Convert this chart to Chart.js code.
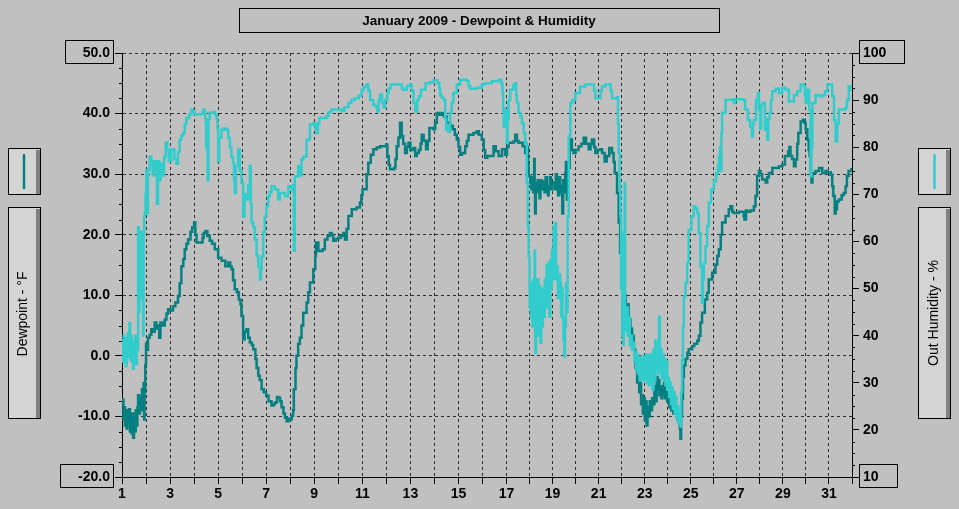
<!DOCTYPE html>
<html>
<head>
<meta charset="utf-8">
<script src="https://cdn.jsdelivr.net/npm/chart.js@4.4.1/dist/chart.umd.min.js"></script>
<style>
html,body{margin:0;padding:0;background:#c0c0c0;overflow:hidden}
#wrap{width:959px;height:509px;position:relative}
</style>
</head>
<body>
<div id="wrap"><canvas id="c" width="959" height="509"></canvas></div>
<script>
// ---------- text ----------
const chartTitle = 'January 2009 - Dewpoint & Humidity';
const leftAxisTitle = 'Dewpoint - °F';
const rightAxisTitle = 'Out Humidity - %';

// ---------- axes ----------
const dayNumbers = [1,2,3,4,5,6,7,8,9,10,11,12,13,14,15,16,17,18,19,20,21,22,23,24,25,26,27,28,29,30,31,32];
const dewpointRange = [-20, 50];
const humidityRange = [10, 100];

// ---------- dewpoint (°F), day of month ----------
const dewDays = [
1.00,1.03,1.06,1.09,1.12,1.15,1.19,1.22,1.26,1.29,1.33,1.36,1.40,1.43,1.46,1.50,1.53,1.57,1.60,1.64,1.67,1.71,1.75,1.79,1.83,1.86,1.90,1.92,1.94,1.97,
2.00,2.04,2.08,2.15,2.22,2.30,2.36,2.43,2.50,2.55,2.60,2.70,2.78,2.85,2.92,
3.00,3.12,3.22,3.33,3.40,3.47,3.55,3.61,3.68,3.75,3.85,3.92,
4.00,4.05,4.10,4.24,4.35,4.40,4.47,4.55,4.65,4.75,4.86,
5.00,5.14,5.30,5.42,5.50,5.56,5.62,5.69,5.78,5.86,5.93,5.97,
6.04,6.10,6.18,6.25,6.32,6.40,6.46,6.55,6.60,6.67,6.73,6.81,6.90,
7.00,7.10,7.22,7.30,7.36,7.45,7.50,7.58,7.64,7.72,7.78,7.85,7.92,
8.00,8.06,8.12,8.15,8.22,8.26,8.33,8.40,8.47,8.54,8.68,8.75,8.82,8.96,
9.04,9.07,9.17,9.35,9.44,9.55,9.65,9.72,9.79,9.90,
10.00,10.10,10.21,10.28,10.35,10.42,10.56,10.76,10.90,10.96,
11.01,11.11,11.18,11.25,11.35,11.46,11.60,11.74,11.99,
12.04,12.10,12.15,12.25,12.32,12.38,12.43,12.50,12.57,12.64,12.70,12.78,12.85,12.92,
13.00,13.13,13.20,13.26,13.35,13.42,13.47,13.55,13.65,13.72,13.79,13.96,
14.03,14.10,14.20,14.31,14.40,14.51,14.65,14.76,14.85,14.93,
15.00,15.07,15.15,15.28,15.35,15.42,15.62,15.76,15.85,15.97,
16.05,16.11,16.20,16.32,16.46,16.55,16.67,16.81,16.94,
17.02,17.09,17.30,17.38,17.45,17.52,17.70,17.81,17.88,17.93,17.96,
18.03,18.08,18.12,18.16,18.20,18.22,18.24,18.27,18.31,18.35,18.39,18.43,18.47,18.52,18.56,18.61,18.65,18.70,18.75,18.80,18.83,18.88,18.93,18.97,
19.04,19.09,19.14,19.19,19.24,19.29,19.33,19.38,19.42,19.46,19.50,19.55,19.58,19.62,19.66,19.70,19.74,19.77,19.84,19.91,
20.00,20.13,20.25,20.35,20.45,20.57,20.65,20.71,20.80,20.86,20.95,
21.07,21.15,21.26,21.35,21.46,21.58,21.65,21.70,21.80,21.87,21.93,
22.00,22.06,22.12,22.18,22.24,22.30,22.38,22.45,22.52,22.60,22.67,22.72,22.76,22.80,22.84,22.88,22.92,22.96,
23.00,23.04,23.08,23.12,23.17,23.22,23.27,23.32,23.37,23.42,23.47,23.52,23.56,23.60,23.64,23.68,23.72,23.76,23.80,23.84,23.88,23.92,23.97,
24.01,24.06,24.10,24.15,24.19,24.24,24.28,24.33,24.38,24.43,24.48,24.52,24.55,24.58,24.62,24.66,24.70,24.77,24.85,24.91,
25.06,25.15,25.28,25.35,25.42,25.49,25.61,25.71,25.78,25.93,
26.07,26.15,26.22,26.30,26.36,26.51,26.65,26.72,26.80,26.86,
27.09,27.23,27.30,27.33,27.40,27.45,27.59,27.74,27.81,27.88,27.96,
28.03,28.10,28.25,28.32,28.39,28.54,28.83,28.97,
29.09,29.23,29.28,29.33,29.40,29.48,29.55,29.62,29.67,29.77,29.87,29.93,29.99,
30.06,30.12,30.16,30.20,30.24,30.28,30.42,30.57,30.71,30.85,30.93,
31.07,31.14,31.19,31.25,31.29,31.35,31.43,31.55,31.64,31.72,31.78,31.85,31.97
];
const dewValues = [
-8.0,-7.2,-10.5,-8.5,-11.5,-9.0,-12.0,-9.5,-11.0,-8.8,-12.5,-10.0,-12.8,-9.5,-13.5,-10.5,-12.5,-9.0,-11.5,-8.5,-6.5,-9.5,-6.8,-9.0,-5.5,-8.0,-4.5,-10.5,-6.0,-1.5,
2.0,1.0,3.0,3.5,4.4,4.0,5.5,4.5,5.0,3.0,5.5,5.0,6.0,7.0,7.7,
7.5,8.2,8.8,9.9,12.0,14.8,16.0,17.6,18.5,19.2,20.5,21.2,
22.0,20.0,18.7,18.7,19.5,20.3,20.6,19.8,19.0,18.5,17.6,
16.2,15.7,14.8,15.4,14.8,14.3,12.5,11.0,10.5,9.3,8.5,6.6,
2.7,4.0,4.4,3.0,2.2,1.8,1.1,-0.5,-2.0,-3.3,-4.0,-5.5,-6.0,
-6.6,-7.5,-8.2,-8.0,-7.7,-6.8,-6.9,-7.5,-8.5,-9.5,-10.2,-10.8,-10.4,
-10.5,-9.9,-9.0,-5.5,-2.0,0.0,2.0,3.0,5.0,7.1,8.8,10.5,12.1,14.3,
16.5,18.7,17.3,17.6,19.2,19.8,20.3,20.0,19.0,19.3,
19.5,19.8,20.3,19.2,21.0,23.1,24.2,24.5,25.3,26.5,
27.5,27.5,30.0,31.9,33.2,34.1,34.4,34.6,34.9,
33.0,31.5,30.8,30.8,31.0,32.5,34.6,36.0,38.5,36.3,35.0,33.5,34.5,35.2,
34.0,34.3,33.0,33.5,34.0,35.0,36.5,35.5,34.1,35.5,37.6,37.4,
38.5,40.1,39.8,40.1,39.5,38.5,38.0,37.4,36.5,35.7,
34.5,33.2,33.5,34.6,35.5,36.5,36.8,37.1,36.5,35.7,
34.0,32.7,33.0,33.0,34.6,33.8,33.0,34.1,33.2,
34.5,35.2,35.4,36.5,35.5,35.2,34.6,33.5,34.5,31.5,29.7,
28.6,27.5,29.5,27.0,32.5,28.0,23.5,28.5,27.0,29.0,28.0,26.0,29.0,27.5,28.5,28.8,27.0,29.5,28.0,26.5,28.0,29.5,27.5,28.5,
28.6,27.5,30.0,28.0,26.5,29.5,28.0,27.0,23.5,29.0,27.0,30.2,32.0,25.8,29.0,31.0,34.0,35.7,34.0,33.5,
34.0,34.6,35.0,36.0,35.0,34.1,35.0,35.7,34.5,33.5,34.0,
34.1,33.5,32.1,33.0,34.3,33.5,32.0,30.2,26.9,22.0,17.0,
14.0,12.0,10.0,8.0,8.5,6.0,4.5,3.3,1.0,-2.0,-4.4,-3.5,-6.0,-4.5,-8.0,-6.5,-9.5,-7.0,
-10.5,-7.5,-11.5,-8.5,-10.0,-7.5,-9.0,-7.0,-8.0,-5.0,-7.5,-3.5,-5.5,-4.0,-6.5,-5.0,-7.0,-5.0,-6.5,-4.5,-7.0,-5.5,-7.5,
-6.0,-8.5,-7.0,-9.0,-8.0,-9.5,-8.5,-9.5,-9.0,-10.5,-11.0,-12.0,-13.7,-10.0,-7.1,-3.5,-1.6,-0.5,0.5,1.1,
1.6,2.0,2.5,3.3,5.5,7.1,9.3,10.4,12.6,13.7,
15.1,16.5,17.6,20.0,22.0,23.1,24.2,24.7,23.8,23.6,
23.8,23.8,23.0,22.5,24.0,23.8,24.0,24.7,26.4,29.7,30.5,
30.0,29.1,28.6,29.5,30.2,31.0,31.3,31.6,
33.0,33.8,34.5,33.0,32.5,31.3,32.4,35.0,36.8,38.7,39.0,38.5,37.4,
35.7,34.0,33.0,30.0,28.6,30.2,30.5,31.0,30.2,30.5,30.3,
29.9,28.0,26.4,23.5,24.2,25.5,25.8,26.5,26.9,28.0,29.7,30.5,31.0
];

// ---------- outdoor humidity (%), day of month ----------
const humDays = [
1.00,1.02,1.04,1.07,1.10,1.13,1.16,1.19,1.22,1.25,1.28,1.31,1.34,1.37,1.40,1.43,1.46,1.49,1.52,1.55,1.58,1.62,1.65,1.67,1.70,1.73,1.76,1.79,1.82,1.85,1.88,1.90,1.92,1.95,1.98,
2.01,2.04,2.08,2.15,2.22,2.27,2.32,2.40,2.45,2.50,2.55,2.60,2.68,2.75,2.82,2.88,2.95,
3.05,3.12,3.18,3.26,3.33,3.40,3.47,3.54,3.61,3.68,3.80,3.89,3.95,
4.03,4.24,4.35,4.40,4.44,4.47,4.50,4.53,4.56,4.60,4.65,4.80,4.86,4.93,4.97,
5.00,5.05,5.14,5.25,5.35,5.42,5.49,5.55,5.62,5.66,5.69,5.74,5.83,5.90,5.97,
6.04,6.10,6.18,6.25,6.32,6.36,6.39,6.46,6.53,6.60,6.67,6.74,6.78,6.81,6.88,6.94,
7.01,7.08,7.15,7.22,7.36,7.50,7.57,7.64,7.78,7.92,
8.06,8.12,8.15,8.19,8.33,8.40,8.47,8.54,8.68,8.82,8.96,
9.05,9.10,9.15,9.21,9.51,9.60,9.72,
10.00,10.14,10.25,10.42,10.55,10.69,10.85,10.97,
11.05,11.18,11.25,11.32,11.45,11.53,11.62,11.68,11.74,11.82,11.88,11.95,
12.04,12.10,12.18,12.57,12.64,12.71,12.85,12.99,
13.05,13.13,13.20,13.28,13.35,13.44,13.63,13.80,13.96,
14.13,14.20,14.24,14.30,14.38,14.45,14.49,14.55,14.58,14.65,14.72,14.79,14.93,
15.07,15.35,15.42,15.49,15.76,15.97,
16.11,16.39,16.67,16.78,16.83,16.86,16.88,16.91,16.94,16.98,
17.01,17.05,17.09,17.16,17.30,17.38,17.42,17.45,17.52,17.60,17.67,17.75,17.81,17.88,17.93,17.96,
18.00,18.03,18.06,18.09,18.12,18.16,18.19,18.22,18.24,18.25,18.28,18.31,18.35,18.39,18.43,18.47,18.51,18.54,18.58,18.62,18.66,18.70,18.74,18.78,18.83,18.86,18.90,18.94,18.97,
19.00,19.04,19.08,19.12,19.15,19.19,19.23,19.27,19.33,19.37,19.40,19.43,19.47,19.51,19.54,19.58,19.62,19.65,19.70,19.77,19.87,19.99,
20.20,20.42,20.71,20.80,20.86,
21.00,21.08,21.14,21.29,21.46,21.52,21.58,21.80,21.84,21.87,21.91,21.94,21.97,
22.00,22.02,22.04,22.06,22.09,22.11,22.13,22.15,22.18,22.22,22.26,22.30,22.35,22.40,22.45,22.50,22.55,22.59,22.63,22.67,22.70,22.74,22.78,22.82,22.86,22.90,22.94,22.98,
23.02,23.06,23.10,23.14,23.18,23.22,23.26,23.30,23.34,23.38,23.42,23.46,23.50,23.54,23.58,23.62,23.66,23.70,23.74,23.78,23.82,23.86,23.90,23.94,23.98,
24.02,24.06,24.10,24.14,24.18,24.22,24.26,24.30,24.34,24.38,24.42,24.46,24.50,24.55,24.58,24.62,24.66,24.70,24.77,24.84,24.91,
25.03,25.13,25.20,25.28,25.35,25.42,25.49,25.53,25.57,25.64,25.71,25.78,25.88,
26.00,26.10,26.18,26.22,26.27,26.29,26.33,26.36,26.51,26.80,26.87,26.93,
27.29,27.36,27.48,27.58,27.65,27.70,27.74,27.83,27.91,27.96,
28.01,28.06,28.13,28.22,28.27,28.32,28.37,28.42,28.48,28.54,28.68,28.83,28.97,
29.12,29.26,29.38,29.48,29.62,29.77,29.91,29.96,29.99,
30.06,30.14,30.20,30.24,30.28,30.42,30.57,30.71,30.83,30.93,
31.07,31.14,31.22,31.29,31.36,31.43,31.58,31.72,31.78,31.86,31.93,32.00
];
const humValues = [
36.5,39.0,34.5,40.0,35.0,38.5,33.5,39.5,35.5,40.5,36.0,42.7,35.0,40.0,34.5,39.0,33.0,38.5,35.0,40.0,34.0,39.5,37.0,63.0,45.0,60.0,48.0,62.0,52.0,58.0,40.0,62.0,65.3,66.0,70.0,
75.0,66.0,75.2,78.0,77.0,74.0,77.0,75.0,68.0,77.0,73.0,76.5,74.0,78.0,81.0,79.5,77.0,
79.5,79.5,77.5,76.5,79.0,81.6,82.5,83.0,85.0,86.2,87.0,88.0,87.5,
87.0,87.0,87.5,88.0,87.5,85.8,80.0,84.0,73.0,86.0,87.3,87.5,87.0,86.0,84.0,
77.0,82.0,83.7,84.0,83.7,82.0,80.0,78.0,76.6,73.0,70.3,76.0,79.5,75.0,72.4,
65.3,70.0,68.9,72.0,76.0,68.0,64.0,63.0,60.4,57.0,54.7,51.9,54.0,56.8,62.0,65.3,
67.5,69.6,70.5,71.7,71.0,68.9,70.3,70.3,69.6,71.7,
71.0,72.0,58.0,73.8,76.0,74.0,77.4,78.0,81.6,84.8,85.1,
84.0,83.0,85.0,86.2,86.6,87.5,88.0,
88.0,87.7,88.5,89.4,90.0,90.4,91.0,92.2,
92.8,93.3,92.0,90.0,89.0,88.7,87.6,90.0,91.2,89.5,88.5,90.0,
91.5,92.5,93.3,93.3,92.5,92.2,93.0,93.3,
92.0,89.4,87.6,90.0,90.8,92.2,93.6,93.8,94.2,
93.6,92.5,91.1,90.5,90.0,86.0,83.7,84.5,83.3,87.3,89.5,91.5,93.3,
94.3,94.0,93.0,92.4,92.6,93.3,
93.6,94.0,94.3,93.6,91.5,88.0,84.4,88.0,87.9,86.0,
80.9,86.0,90.0,92.2,93.3,93.6,91.0,89.4,87.3,86.5,85.1,83.0,80.9,72.4,63.2,56.8,
46.0,51.2,44.0,49.0,42.0,52.0,44.5,58.0,40.0,36.3,48.0,43.0,52.0,40.0,50.5,38.5,47.0,42.0,50.0,44.0,52.0,46.0,55.0,48.0,55.4,44.0,56.0,50.0,58.2,
52.0,63.2,55.0,63.9,52.0,54.7,48.0,53.0,51.2,44.0,50.0,44.1,39.0,35.6,42.0,51.0,45.0,65.3,82.3,89.4,90.0,91.5,
92.9,93.3,93.3,92.0,90.4,
90.4,92.0,92.9,93.3,93.3,92.0,90.4,90.6,85.0,78.8,72.0,65.3,50.0,
62.0,40.0,55.0,38.0,58.0,42.0,72.4,45.0,41.0,46.0,40.0,44.0,38.0,40.0,37.0,38.5,34.5,36.5,33.0,36.0,32.0,35.0,30.5,35.5,31.0,35.0,30.5,35.5,
31.0,36.0,30.0,35.5,29.5,36.0,30.0,35.5,28.5,37.0,30.5,39.0,33.0,38.5,32.0,44.0,33.0,37.0,31.0,36.0,30.5,35.0,29.5,34.5,28.5,
31.0,27.0,30.0,25.5,29.0,24.5,28.0,23.5,27.0,22.5,25.0,21.5,23.5,20.7,28.0,34.9,42.0,48.3,51.2,55.4,62.5,
65.3,67.4,67.0,66.0,61.8,54.7,47.0,52.0,55.4,59.0,63.2,68.2,71.0,
72.8,74.5,76.0,78.0,80.0,75.0,83.0,87.3,90.0,90.2,89.4,90.2,
90.0,88.0,85.8,84.4,82.3,85.0,85.8,90.0,91.5,88.0,
84.0,89.0,89.4,83.7,86.0,81.6,86.0,87.3,90.0,91.9,92.4,91.5,92.6,
92.2,89.7,89.7,91.1,91.9,93.3,93.0,91.0,89.4,
92.2,88.0,73.8,80.0,89.4,91.1,90.8,91.1,91.9,93.3,
93.3,90.8,85.8,81.2,85.0,88.0,88.0,88.4,90.0,92.9,92.2,93.3
];

// ---------- styles ----------
const BG = '#c0c0c0';
const DEW_COLOR = '#008080';
const HUM_COLOR = '#33cccc';
const FONT = '"Liberation Sans", Arial, sans-serif';

// The reference's day axis: gridlines are 24px apart up to day 17, 23px after.
class DayScale extends Chart.LinearScale {
  _dayOffset(v) {
    const split = 17, a = 24, b = 23;
    return v <= split ? (v - this.min) * a : (split - this.min) * a + (v - split) * b;
  }
  getPixelForValue(value) {
    if (value === null || value === undefined || isNaN(value)) return NaN;
    return this.getPixelForDecimal(this._dayOffset(value) / this._dayOffset(this.max));
  }
  getValueForPixel(pixel) {
    const d = this.getDecimalForPixel(pixel) * this._dayOffset(this.max);
    const splitOff = this._dayOffset(17);
    return d <= splitOff ? this.min + d / 24 : 17 + (d - splitOff) / 23;
  }
}
DayScale.id = 'dayscale';
DayScale.defaults = Chart.LinearScale.defaults;
Chart.register(DayScale);

const dewPoints = dewDays.map((d, i) => ({x: d, y: dewValues[i]}));
const humPoints = humDays.map((d, i) => ({x: d, y: humValues[i]}));

function panel(ctx, x, y, w, h) {
  ctx.fillStyle = '#d4d4d4';
  ctx.fillRect(x, y, w, h);
  ctx.fillStyle = '#808080';
  ctx.fillRect(x + w - 5, y + 2, 4, h - 3);
  ctx.strokeStyle = '#000';
  ctx.lineWidth = 1;
  ctx.strokeRect(x + 0.5, y + 0.5, w - 1, h - 1);
}

const decor = {
  id: 'decor',
  beforeDraw(chart) {
    const ctx = chart.ctx;
    ctx.save();
    ctx.fillStyle = BG;
    ctx.fillRect(0, 0, chart.width, chart.height);
    ctx.restore();
  },
  afterDraw(chart) {
    const ctx = chart.ctx;
    const yL = chart.scales.y, yR = chart.scales.y2;
    ctx.save();
    // title
    ctx.strokeStyle = '#000'; ctx.lineWidth = 1;
    ctx.strokeRect(239.5, 8.5, 480, 24);
    ctx.fillStyle = '#000';
    ctx.font = 'bold 13.5px ' + FONT;
    ctx.textAlign = 'center'; ctx.textBaseline = 'middle';
    ctx.fillText(chartTitle, 479, 21);

    // legend panels
    panel(ctx, 8, 148, 33, 47);
    panel(ctx, 8, 207, 33, 212);
    panel(ctx, 918, 148, 33, 47);
    panel(ctx, 918, 207, 33, 212);
    ctx.lineCap = 'round';
    ctx.lineWidth = 2.5;
    ctx.strokeStyle = DEW_COLOR;
    ctx.beginPath(); ctx.moveTo(24, 155); ctx.lineTo(24, 188); ctx.stroke();
    ctx.strokeStyle = HUM_COLOR;
    ctx.beginPath(); ctx.moveTo(934.5, 155); ctx.lineTo(934.5, 188); ctx.stroke();

    ctx.fillStyle = '#000';
    ctx.font = '14px ' + FONT;
    ctx.textAlign = 'center'; ctx.textBaseline = 'middle';
    ctx.save(); ctx.translate(23, 314); ctx.rotate(-Math.PI / 2); ctx.fillText(leftAxisTitle, 0, 0); ctx.restore();
    ctx.save(); ctx.translate(934, 313); ctx.rotate(-Math.PI / 2); ctx.fillText(rightAxisTitle, 0, 0); ctx.restore();

    // minor ticks
    ctx.strokeStyle = '#000'; ctx.lineWidth = 1; ctx.lineCap = 'butt';
    for (let v = dewpointRange[0]; v <= dewpointRange[1]; v += 2.5) {
      if (v % 10 === 0) continue;
      const p = Math.round(yL.getPixelForValue(v)) + 0.5;
      ctx.beginPath(); ctx.moveTo(yL.right - 3, p); ctx.lineTo(yL.right, p); ctx.stroke();
    }
    for (let v = humidityRange[0]; v <= humidityRange[1]; v += 2.5) {
      if (v % 10 === 0) continue;
      const p = Math.round(yR.getPixelForValue(v)) + 0.5;
      ctx.beginPath(); ctx.moveTo(yR.left, p); ctx.lineTo(yR.left + 3, p); ctx.stroke();
    }

    // boxed end labels
    ctx.font = 'bold 14px ' + FONT;
    const lRight = yL.right - 7 - 5;
    [dewpointRange[1], dewpointRange[0]].forEach(v => {
      const tw = ctx.measureText(v.toFixed(1)).width;
      const p = yL.getPixelForValue(v);
      const x1 = Math.round(lRight - tw - 18) + 0.5, x2 = lRight + 3.5;
      const y1 = Math.round(p - 13) + 0.5;
      ctx.strokeRect(x1, y1, x2 - x1, 23);
    });
    const rLeft = yR.left + 7 + 4;
    [humidityRange[1], humidityRange[0]].forEach(v => {
      const tw = ctx.measureText(String(v)).width;
      const p = yR.getPixelForValue(v);
      const x1 = rLeft - 3.5, x2 = Math.round(rLeft + tw + 18) + 0.5;
      const y1 = Math.round(p - 13) + 0.5;
      ctx.strokeRect(x1, y1, x2 - x1, 23);
    });
    ctx.restore();
  }
};

const tickFont = {family: FONT, weight: 'bold', size: 14};

new Chart(document.getElementById('c'), {
  type: 'line',
  data: {
    datasets: [
      {label: 'Out Humidity', data: humPoints, yAxisID: 'y2', borderColor: HUM_COLOR, borderWidth: 2.5,
       pointRadius: 0, tension: 0, stepped: 'before', fill: false, order: 0},
      {label: 'Dewpoint', data: dewPoints, yAxisID: 'y', borderColor: DEW_COLOR, borderWidth: 2.5,
       pointRadius: 0, tension: 0, stepped: 'before', fill: false, order: 1}
    ]
  },
  options: {
    responsive: false,
    animation: false,
    events: [],
    layout: {padding: {top: 53, left: 0, right: 0, bottom: 0}},
    plugins: {legend: {display: false}, tooltip: {enabled: false}, title: {display: false}},
    scales: {
      x: {
        type: 'dayscale', position: 'bottom', min: dayNumbers[0], max: dayNumbers[dayNumbers.length - 1],
        afterBuildTicks: s => { s.ticks = dayNumbers.map(v => ({value: v})); },
        afterFit: s => { s.height = 32; },
        ticks: {autoSkip: false, maxRotation: 0, minRotation: 0, color: '#000', font: tickFont, padding: 2,
          callback: v => (v % 2 === 1 && v < dayNumbers[dayNumbers.length - 1]) ? String(v) : ''},
        grid: {color: '#303030', lineWidth: 1, tickColor: '#000', tickLength: 7, tickWidth: 1},
        border: {display: true, color: '#000', width: 1, dash: [3, 3]}
      },
      y: {
        position: 'left', min: dewpointRange[0], max: dewpointRange[1],
        afterFit: s => { s.width = 122; },
        ticks: {stepSize: 10, color: '#000', font: tickFont, padding: 5, callback: v => Number(v).toFixed(1)},
        grid: {color: '#303030', lineWidth: 1, tickColor: '#000', tickLength: 7, tickWidth: 1},
        border: {display: true, color: '#000', width: 1, dash: [3, 3]}
      },
      y2: {
        position: 'right', min: humidityRange[0], max: humidityRange[1],
        afterFit: s => { s.width = 107; },
        ticks: {stepSize: 10, color: '#000', font: tickFont, padding: 4, callback: v => String(v)},
        grid: {drawOnChartArea: false, tickColor: '#000', tickLength: 7, tickWidth: 1},
        border: {display: true, color: '#000', width: 1}
      }
    }
  },
  plugins: [decor]
});
</script>
</body>
</html>
